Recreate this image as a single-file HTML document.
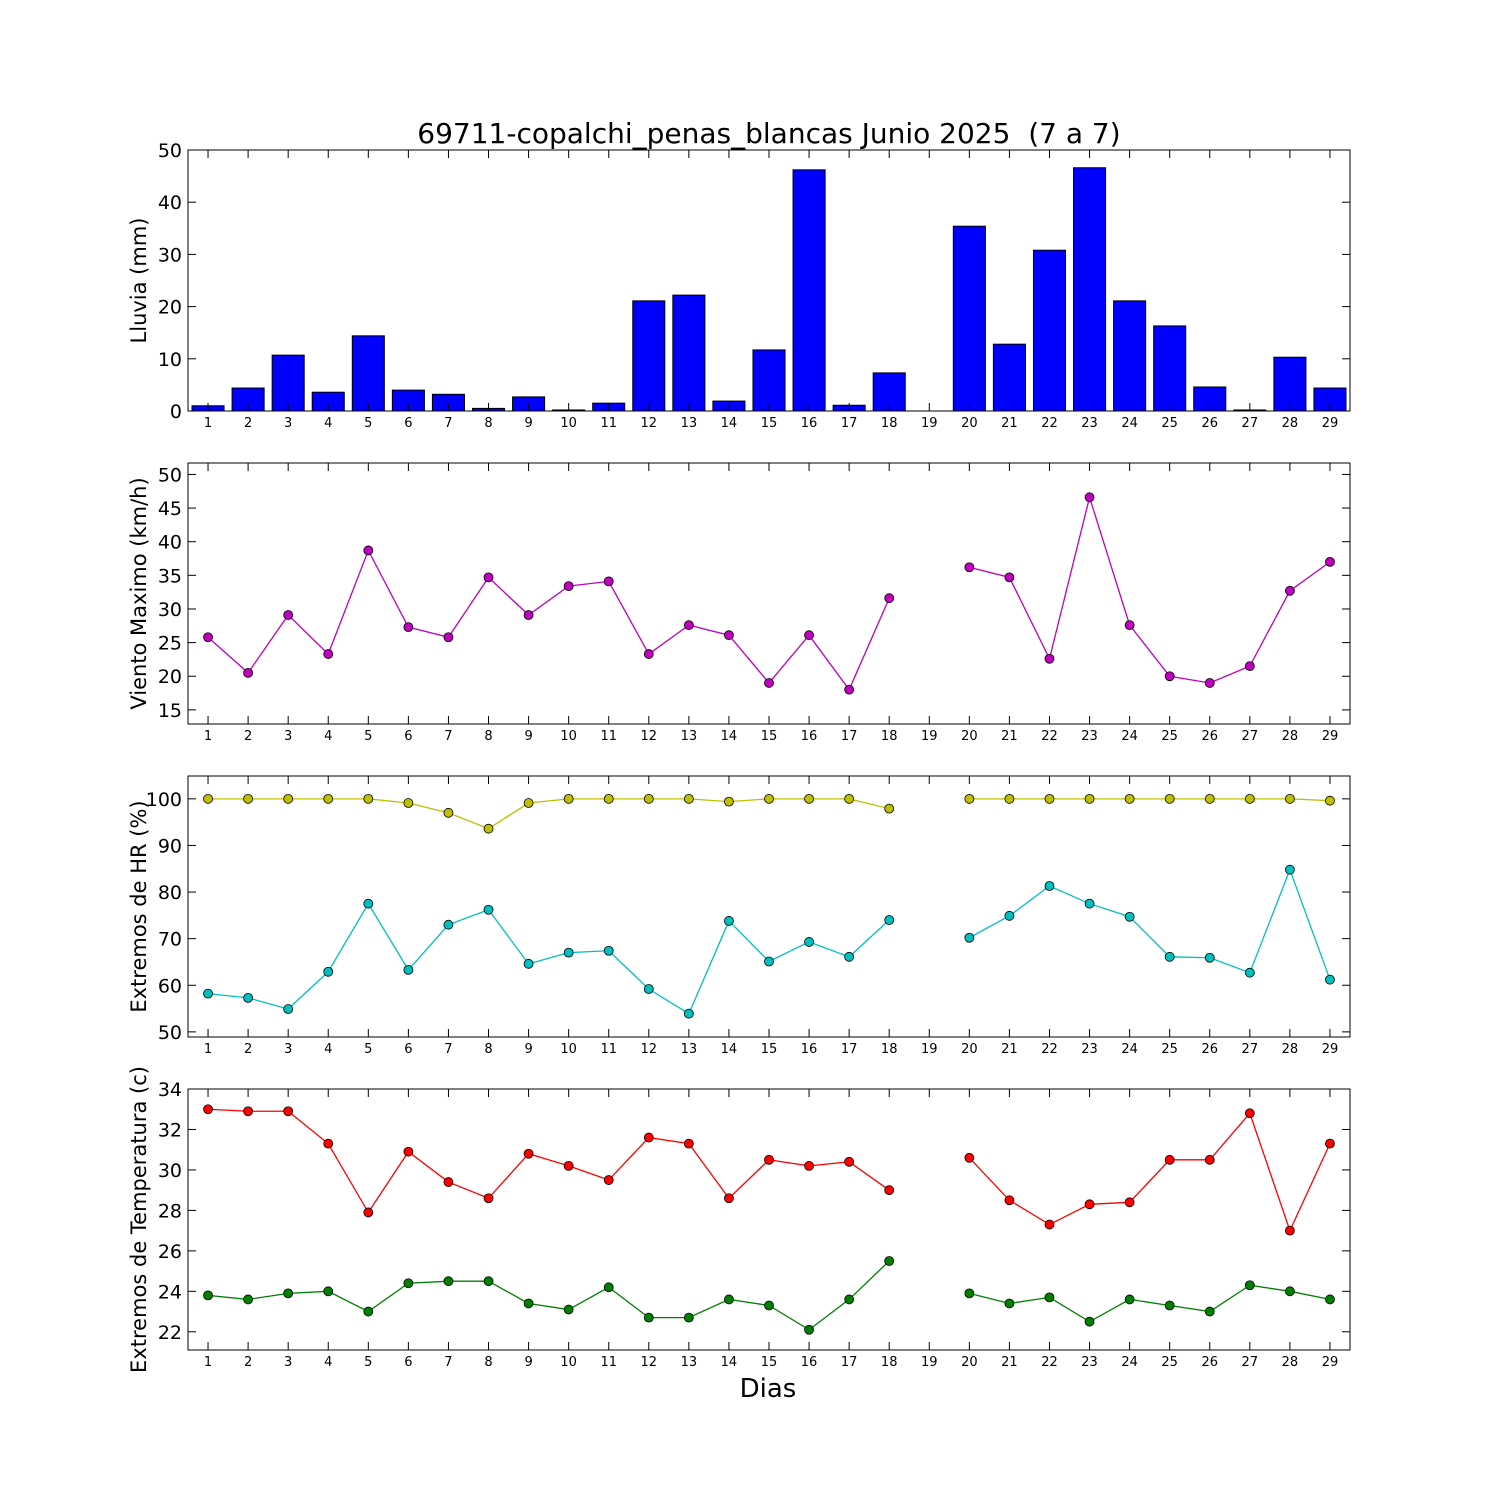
<!DOCTYPE html>
<html><head><meta charset="utf-8"><style>
html,body{margin:0;padding:0;background:#fff;}
svg{display:block;font-family:"DejaVu Sans","Liberation Sans",sans-serif;}
</style></head><body>
<svg id="chart" width="1500" height="1500" viewBox="0 0 1500 1500" xmlns="http://www.w3.org/2000/svg">
<rect width="1500" height="1500" fill="#fff"/>
<text x="769" y="143" font-size="28" text-anchor="middle" style="white-space:pre">69711-copalchi_penas_blancas Junio 2025  (7 a 7)</text>
<text x="768" y="1397" font-size="26" text-anchor="middle">Dias</text>
</svg>
<script>
const days = Array.from({length:29},(_,i)=>i+1);
const rain = [1.0,4.4,10.7,3.6,14.4,4.0,3.2,0.5,2.7,0.2,1.5,21.1,22.2,1.9,11.7,46.2,1.1,7.3,0,35.4,12.8,30.8,46.6,21.1,16.3,4.6,0.2,10.3,4.4];
const wind = [25.8,20.5,29.1,23.3,38.7,27.3,25.8,34.7,29.1,33.4,34.1,23.3,27.6,26.1,19.0,26.1,18.0,31.6,null,36.2,34.7,22.6,46.6,27.6,20.0,19.0,21.5,32.7,37.0];
const hrMax = [100,100,100,100,100,99.1,97.0,93.6,99.1,100,100,100,100,99.4,100,100,100,97.9,null,100,100,100,100,100,100,100,100,100,99.6];
const hrMin = [58.2,57.3,54.9,62.9,77.5,63.3,73.0,76.2,64.6,67.0,67.4,59.2,53.9,73.8,65.1,69.3,66.1,74.0,null,70.2,74.9,81.3,77.5,74.7,66.1,65.9,62.7,84.8,61.2];
const tMax = [33.0,32.9,32.9,31.3,27.9,30.9,29.4,28.6,30.8,30.2,29.5,31.6,31.3,28.6,30.5,30.2,30.4,29.0,null,30.6,28.5,27.3,28.3,28.4,30.5,30.5,32.8,27.0,31.3];
const tMin = [23.8,23.6,23.9,24.0,23.0,24.4,24.5,24.5,23.4,23.1,24.2,22.7,22.7,23.6,23.3,22.1,23.6,25.5,null,23.9,23.4,23.7,22.5,23.6,23.3,23.0,24.3,24.0,23.6];
const rainTicks = [0,10,20,30,40,50];
const windTicks = [15,20,25,30,35,40,45,50];
const hrTicks = [50,60,70,80,90,100];
const tTicks = [22,24,26,28,30,32,34];

const svg = document.getElementById('chart');
const NS = 'http://www.w3.org/2000/svg';
const X0 = 188, X1 = 1350;
const xs = d => X0 + (d - 0.5) * (X1 - X0) / 29;
function mk(tag, attrs, parent){const e=document.createElementNS(NS,tag);for(const k in attrs)e.setAttribute(k,attrs[k]);(parent||svg).appendChild(e);return e;}

function panel(name, top, ymin, ymax, ticks, ylabel){
  const bot = top + 261;
  const g = mk('g',{});
  
  
  const ys = v => bot - (v - ymin) * (bot - top) / (ymax - ymin);
  return {g, top, bot, ys, ticks, ylabel, name};
}
function frame(p){
  const g = p.g;
  for (const t of p.ticks){
    const y = p.ys(t);
    mk('line',{x1:X0,x2:X0+8,y1:y,y2:y,stroke:'#000'},g);
    mk('line',{x1:X1,x2:X1-8,y1:y,y2:y,stroke:'#000'},g);
    const tx = mk('text',{x:X0-6,y:y+7,'font-size':19,'text-anchor':'end'},g);
    
    
    tx.textContent = t;
  }
  for (const d of days){
    const x = xs(d);
    mk('line',{x1:x,x2:x,y1:p.bot,y2:p.bot-8,stroke:'#000'},g);
    mk('line',{x1:x,x2:x,y1:p.top,y2:p.top+8,stroke:'#000'},g);
    const tx = mk('text',{x:x,y:p.bot+16,'font-size':13,'text-anchor':'middle'},g);
    
    
    tx.textContent = d;
  }
  mk('rect',{x:X0,y:p.top,width:X1-X0,height:p.bot-p.top,fill:'none',stroke:'#000','stroke-width':1},g);
  const cy = (p.top+p.bot)/2;
  const lab = mk('text',{x:0,y:0,'font-size':21,'text-anchor':'middle',transform:`translate(146,${cy}) rotate(-90)`},g);
  
  
  lab.textContent = p.ylabel;
}
function series(p, vals, color, name){
  const g = p.g;
  let seg = [];
  const segs = [];
  vals.forEach((v,i)=>{ if(v===null){ if(seg.length) segs.push(seg); seg=[]; } else seg.push([xs(days[i]), p.ys(v)]); });
  if(seg.length) segs.push(seg);
  for (const s of segs){
    const pl = mk('polyline',{points:s.map(q=>q.join(',')).join(' '),fill:'none',stroke:color,'stroke-width':1.3},g);
    
    
  }
  vals.forEach((v,i)=>{ if(v===null) return;
    const c = mk('circle',{cx:xs(days[i]),cy:p.ys(v),r:4.5,fill:color,stroke:'#000','stroke-width':0.8},g);
    
    
  });
}

const p1 = panel('rain', 150, 0, 50, rainTicks, 'Lluvia (mm)');
rain.forEach((v,i)=>{
  const bw = 0.8 * (X1-X0)/29;
  const y = p1.ys(v);
  const r = mk('rect',{x:xs(days[i])-bw/2,y:y,width:bw,height:p1.bot-y,fill:'#0000ff',stroke:'#000','stroke-width':1},p1.g);
  
  
});
frame(p1);

const p2 = panel('wind', 463, 12.9, 51.7, windTicks, 'Viento Maximo (km/h)');
series(p2, wind, '#bf00bf', 'wind');
frame(p2);

const p3 = panel('humidity', 776, 48.9, 104.9, hrTicks, 'Extremos de HR (%)');
series(p3, hrMax, '#bfbf00', 'hr-max');
series(p3, hrMin, '#00bfbf', 'hr-min');
frame(p3);

const p4 = panel('temperature', 1089, 21.1, 34, tTicks, 'Extremos de Temperatura (c)');
series(p4, tMax, '#ff0000', 't-max');
series(p4, tMin, '#007f00', 't-min');
frame(p4);
</script>
</body></html>
